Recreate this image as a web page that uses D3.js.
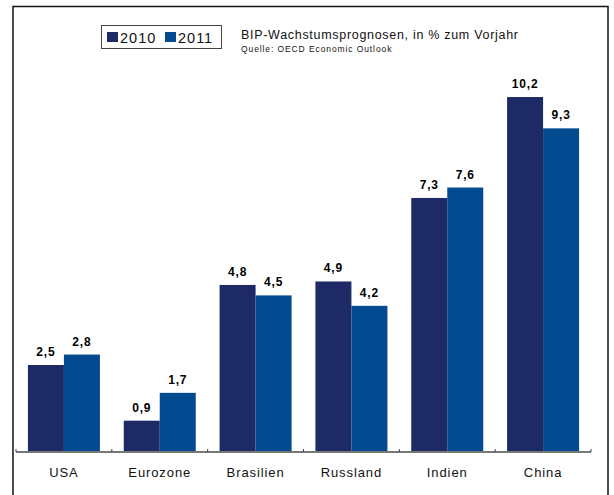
<!DOCTYPE html>
<html>
<head>
<meta charset="utf-8">
<script src="https://cdn.jsdelivr.net/npm/d3@7"></script>
<style>
  body { margin: 0; background: #fff; }
  text { font-family: "Liberation Sans", Arial, sans-serif; }
</style>
</head>
<body>
<div id="canvas"></div>
<script>
"use strict";

// Data
let categories = ["USA", "Eurozone", "Brasilien", "Russland", "Indien", "China"];
let series = ["2010", "2011"];
let values2010 = [2.5, 0.9, 4.8, 4.9, 7.3, 10.2];
let values2011 = [2.8, 1.7, 4.5, 4.2, 7.6, 9.3];
let seriesColors = ["#1e2a66", "#034b90"];
let titleText = "BIP-Wachstumsprognosen, in % zum Vorjahr";
let sourceText = "Quelle: OECD Economic Outlook";

let svgWidth = 614, svgHeight = 495;
let axisLeft = 16, axisRight = 591, baseY = 452;

let svg = d3.select("#canvas").append("svg")
  .attr("width", svgWidth).attr("height", svgHeight)
  .style("display", "block");

// Frame (open at the bottom)
svg.append("path")
  .attr("d", "M13,495 L13,6.5 L608,6.5 L608,495")
  .attr("fill", "none").attr("stroke", "#111").attr("stroke-width", 1.5);

// Scales
let xScale = d3.scaleBand().domain(categories).range([axisLeft, axisRight]).paddingInner(0).paddingOuter(0);
let xInner = d3.scaleBand().domain(series).range([0, 72]);
let yScale = d3.scaleLinear().domain([0, 12]).range([baseY, baseY - 12 * 34.8]);

let rows = categories.map(function(c, i){
  return { cat: c, vals: [values2010[i], values2011[i]] };
});

// Bars
let groups = svg.append("g").selectAll("g")
  .data(rows).enter().append("g")
  .attr("transform", function(d){ return "translate(" + (xScale(d.cat) + (xScale.bandwidth() - 72) / 2) + ",0)"; });

groups.selectAll("rect")
  .data(function(d){ return d.vals.map(function(v, j){ return { s: series[j], v: v, j: j }; }); })
  .enter().append("rect")
  .attr("x", function(d){ return xInner(d.s); })
  .attr("width", xInner.bandwidth())
  .attr("y", function(d){ return yScale(d.v); })
  .attr("height", function(d){ return baseY - yScale(d.v); })
  .attr("fill", function(d){ return seriesColors[d.j]; });

groups.selectAll("text")
  .data(function(d){ return d.vals.map(function(v, j){ return { s: series[j], v: v }; }); })
  .enter().append("text")
  .attr("x", function(d){ return xInner(d.s) + xInner.bandwidth() / 2; })
  .attr("y", function(d){ return yScale(d.v) - 9; })
  .attr("text-anchor", "middle")
  .style("font-size", "12px").style("font-weight", "700")
  .style("letter-spacing", "0.8px")
  .text(function(d){ return d3.format(".1f")(d.v).replace(".", ","); });

// X axis
let xAxis = svg.append("g").attr("transform", "translate(0," + baseY + ")");
xAxis.append("line")
  .attr("x1", axisLeft).attr("x2", axisRight)
  .attr("stroke", "#777").attr("stroke-width", 2);
let tickPos = categories.map(function(c){ return xScale(c); }).concat([axisRight]);
xAxis.selectAll(".tick").data(tickPos).enter().append("line")
  .attr("x1", function(d){ return d; }).attr("x2", function(d){ return d; })
  .attr("y1", -3).attr("y2", 0)
  .attr("stroke", "#444").attr("stroke-width", 1);
xAxis.selectAll(".lbl").data(categories).enter().append("text")
  .attr("x", function(d){ return xScale(d) + xScale.bandwidth() / 2; })
  .attr("y", 25)
  .attr("text-anchor", "middle")
  .style("font-size", "13px").style("letter-spacing", "0.9px").attr("fill", "#111")
  .text(function(d){ return d; });

// Legend
let legend = svg.append("g");
legend.append("rect")
  .attr("x", 101.5).attr("y", 25.5).attr("width", 120).attr("height", 23)
  .attr("fill", "#fff").attr("stroke", "#444").attr("stroke-width", 1);
let legX = [107, 165];
series.forEach(function(s, i){
  legend.append("rect")
    .attr("x", legX[i]).attr("y", 32).attr("width", 11).attr("height", 10)
    .attr("fill", seriesColors[i]);
  legend.append("text")
    .attr("x", legX[i] + 13).attr("y", 42.5)
    .style("font-size", "14.5px").style("letter-spacing", "1px").attr("fill", "#111")
    .text(s);
});

// Titles
svg.append("text")
  .attr("x", 241).attr("y", 39)
  .style("font-size", "12.5px").style("letter-spacing", "0.7px").attr("fill", "#111")
  .text(titleText);
svg.append("text")
  .attr("x", 241).attr("y", 52)
  .style("font-size", "8.5px").style("letter-spacing", "0.9px").attr("fill", "#111")
  .text(sourceText);
</script>
</body>
</html>
